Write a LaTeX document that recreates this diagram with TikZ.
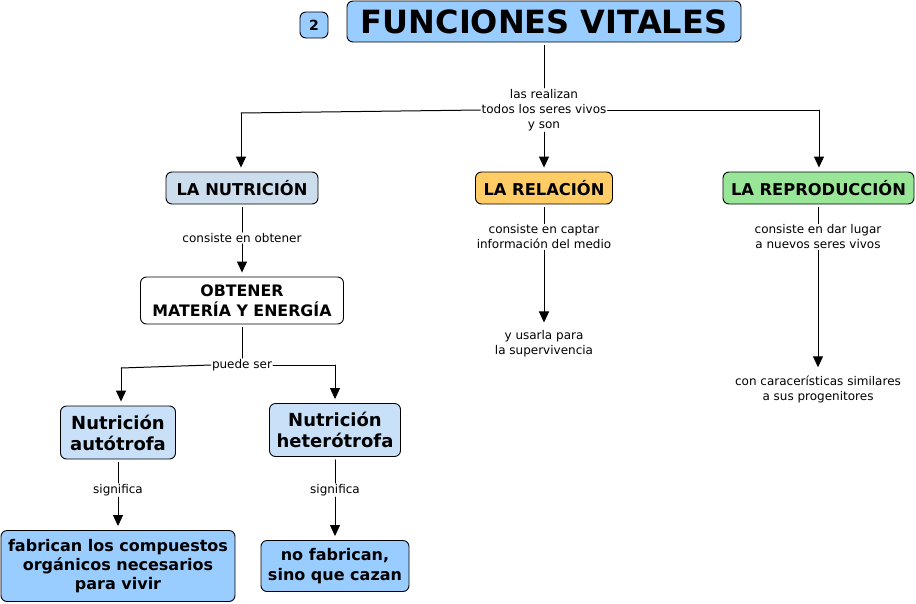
\documentclass[tikz,border=0pt]{standalone}
\usepackage{fontspec}
\setmainfont{DejaVu Sans}
\usepackage{tikz}
\usetikzlibrary{arrows.meta}
\definecolor{cielo}{HTML}{99CCFF}
\definecolor{grisazul}{HTML}{CCDDEE}
\definecolor{celeste}{HTML}{C8E0F8}
\definecolor{naranja}{HTML}{FFCC66}
\definecolor{verde}{HTML}{99E699}

\begin{document}
\begin{tikzpicture}[line cap=round,line join=round,x=1pt,y=-1pt,
    >={Triangle[length=11pt,width=10pt]},
    caja/.style={draw,line width=0.9pt,rounded corners=6pt,align=center,inner sep=0pt},
    etiq/.style={align=center,inner sep=1pt,font=\fontsize{12}{15}\selectfont},
    linea/.style={line width=1pt,shorten <=3pt},
    flecha/.style={line width=1pt,->,shorten >=4pt}]
    \useasboundingbox (0,0) rectangle (916,603);
    % cajas
    \node[caja,fill=cielo,minimum width=28pt,minimum height=26pt,font=\bfseries\fontsize{14}{16}\selectfont] (num) at (314,25) {2};
    \node[caja,fill=cielo,minimum width=394pt,minimum height=41pt,font=\bfseries\fontsize{32}{36}\selectfont] (titulo) at (544,21.5) {FUNCIONES VITALES};
    \node[caja,fill=grisazul,minimum width=152pt,minimum height=32pt,font=\bfseries\fontsize{16.3}{20}\selectfont] (nutri) at (242,188) {LA NUTRICIÓN};
    \node[caja,fill=naranja,minimum width=137pt,minimum height=32pt,font=\bfseries\fontsize{16.3}{20}\selectfont] (relac) at (544,188) {LA RELACIÓN};
    \node[caja,fill=verde,minimum width=191pt,minimum height=32pt,font=\bfseries\fontsize{16.3}{20}\selectfont] (repro) at (818.5,188) {LA REPRODUCCIÓN};
    \node[caja,fill=white,minimum width=203pt,minimum height=47pt,font=\bfseries\fontsize{15.8}{20}\selectfont] (obten) at (242,300.5) {OBTENER\\MATERÍA Y ENERGÍA};
    \node[caja,fill=celeste,minimum width=115pt,minimum height=53pt,font=\bfseries\fontsize{18}{21}\selectfont] (auto) at (118,432.5) {Nutrición\\autótrofa};
    \node[caja,fill=celeste,minimum width=131pt,minimum height=53pt,font=\bfseries\fontsize{18}{21}\selectfont] (hete) at (335,430) {Nutrición\\heterótrofa};
    \node[caja,fill=cielo,minimum width=234pt,minimum height=71pt,font=\bfseries\fontsize{16}{19}\selectfont] (fabri) at (118,566) {fabrican los compuestos\\orgánicos necesarios\\para vivir};
    \node[caja,fill=cielo,minimum width=148pt,minimum height=51pt,font=\bfseries\fontsize{16}{19.5}\selectfont] (nofab) at (335,566) {no fabrican,\\sino que cazan};
    % etiquetas
    \node[etiq] (realiza) at (544,110) {las realizan\\todos los seres vivos\\y son};
    \node[etiq] (obtlab) at (242,238) {consiste en obtener};
    \node[etiq] (puede) at (242,365) {puede ser};
    \node[etiq] (sig1) at (118,490) {significa};
    \node[etiq] (sig2) at (335,490) {significa};
    \node[etiq] (captar) at (544,237) {consiste en captar\\información del medio};
    \node[etiq] (dar) at (818,237) {consiste en dar lugar\\a nuevos seres vivos};
    \node[etiq] (usarla) at (544,344) {y usarla para\\la supervivencia};
    \node[etiq] (caract) at (818,389) {con caracerísticas similares\\a sus progenitores};
    \coordinate (izq) at (241,113);
    \coordinate (der) at (819,110);
    \coordinate (izq2) at (121,368);
    \coordinate (der2) at (335,365);
    % conectores
    \draw[linea] (titulo) -- (realiza);
    \draw[line width=1pt] (realiza.west) -- (izq);
    \draw[flecha] (izq) -- (izq |- nutri.north);
    \draw[flecha] (realiza) -- (relac);
    \draw[line width=1pt] (realiza.east) -- (der);
    \draw[flecha] (der) -- (der |- repro.north);
    \draw[linea] (nutri) -- (obtlab);
    \draw[flecha] (obtlab) -- (obten);
    \draw[linea] (obten) -- (puede);
    \draw[line width=1pt] (puede.west) -- (izq2);
    \draw[flecha] (izq2) -- (izq2 |- auto.north);
    \draw[line width=1pt] (puede.east) -- (der2);
    \draw[flecha] (der2) -- (der2 |- hete.north);
    \draw[linea] (auto) -- (sig1);
    \draw[flecha] (sig1) -- (fabri);
    \draw[linea] (hete) -- (sig2);
    \draw[flecha] (sig2) -- (nofab);
    \draw[linea] (relac) -- (captar);
    \draw[flecha,shorten >=7pt] (captar) -- (usarla);
    \draw[linea] (repro.south) -- (repro.south |- dar.north);
    \draw[flecha,shorten >=7pt] (dar) -- (caract);
\end{tikzpicture}
\end{document}
